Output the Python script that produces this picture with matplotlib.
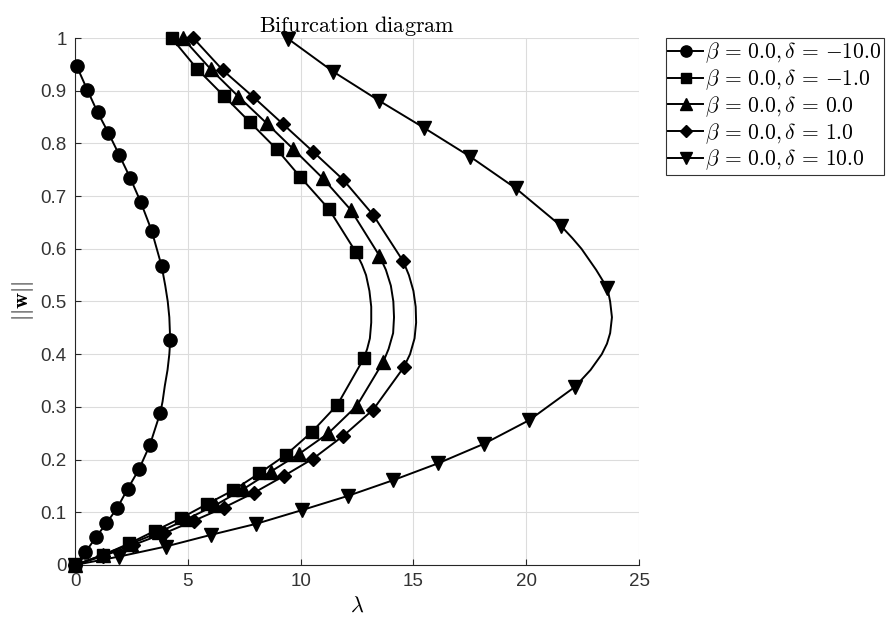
import matplotlib
matplotlib.use("Agg")
import matplotlib.pyplot as plt
from matplotlib.ticker import FuncFormatter

plt.rcParams['mathtext.fontset'] = 'cm'
plt.rcParams['font.family'] = ['Liberation Sans', 'DejaVu Sans']

# branch points (lambda, ||w||) from the top of the upper branch, round the turn, down to the origin
lam_m10 = [0.07, 0.55, 1.00, 1.48, 1.96, 2.44, 2.91, 3.40, 3.84, 4.00, 4.11, 4.18, 4.22,
           4.18, 4.10, 3.98, 3.88, 3.78, 3.32, 2.84, 2.33, 1.88, 1.39, 0.93, 0.46, 0.0]
w_m10 = [0.947, 0.901, 0.859, 0.820, 0.778, 0.735, 0.689, 0.634, 0.567, 0.53, 0.50, 0.47, 0.426,
         0.40, 0.37, 0.34, 0.31, 0.289, 0.228, 0.182, 0.144, 0.109, 0.079, 0.053, 0.024, 0.0]
turn_m10 = [9, 10, 11, 13, 14, 15, 16]

lam_m1 = [4.28, 5.42, 6.60, 7.76, 8.94, 9.97, 11.26, 12.46, 12.72, 12.90, 13.05, 13.13, 13.13,
          13.07, 12.95, 12.80, 11.63, 10.49, 9.35, 8.17, 7.02, 5.87, 4.70, 3.55, 2.41, 1.25, 0.0]
w_m1 = [1.0, 0.941, 0.890, 0.840, 0.789, 0.737, 0.675, 0.593, 0.57, 0.55, 0.52, 0.49, 0.46,
        0.43, 0.41, 0.392, 0.304, 0.252, 0.209, 0.174, 0.142, 0.116, 0.089, 0.065, 0.041, 0.019, 0.0]
turn_m1 = [8, 9, 10, 11, 12, 13, 14]

lam_0 = [4.77, 6.01, 7.24, 8.50, 9.68, 10.98, 12.22, 13.49, 13.78, 14.00, 14.11, 14.14, 14.10,
         13.90, 13.67, 12.49, 11.23, 9.94, 8.67, 7.46, 6.20, 4.95, 3.71, 2.47, 1.23, 0.0]
w_0 = [1.0, 0.941, 0.889, 0.838, 0.789, 0.734, 0.674, 0.587, 0.56, 0.53, 0.50, 0.47, 0.44,
       0.41, 0.386, 0.302, 0.250, 0.211, 0.177, 0.144, 0.113, 0.087, 0.062, 0.040, 0.019, 0.0]
turn_0 = [8, 9, 10, 11, 12, 13]

lam_p1 = [5.24, 6.55, 7.88, 9.21, 10.56, 11.89, 13.22, 14.55, 14.80, 15.00, 15.10, 15.12, 15.05,
          14.85, 14.57, 13.22, 11.89, 10.56, 9.26, 7.93, 6.60, 5.27, 3.95, 2.58, 1.25, 0.0]
w_p1 = [1.0, 0.939, 0.889, 0.837, 0.784, 0.731, 0.664, 0.576, 0.55, 0.52, 0.49, 0.46, 0.43,
        0.40, 0.375, 0.295, 0.245, 0.202, 0.169, 0.137, 0.109, 0.084, 0.060, 0.038, 0.017, 0.0]
turn_p1 = [8, 9, 10, 11, 12, 13]

lam_p10 = [9.46, 11.45, 13.48, 15.49, 17.51, 19.53, 21.55, 22.05, 22.45, 23.10, 23.60, 23.72, 23.80,
           23.72, 23.58, 23.35, 22.85, 22.16, 20.14, 18.13, 16.10, 14.11, 12.09, 10.05, 8.02, 6.01,
           4.02, 1.96, 0.0]
w_p10 = [0.998, 0.936, 0.881, 0.829, 0.775, 0.715, 0.643, 0.62, 0.60, 0.56, 0.525, 0.50, 0.47,
         0.44, 0.42, 0.40, 0.37, 0.338, 0.275, 0.230, 0.193, 0.161, 0.131, 0.104, 0.078, 0.057,
         0.035, 0.016, 0.0]
turn_p10 = [7, 8, 9, 11, 12, 13, 14, 15, 16]

labels = [r'$\beta\, =\, 0.0, \delta\, =\, {-}10.0$',
          r'$\beta\, =\, 0.0, \delta\, =\, {-}1.0$',
          r'$\beta\, =\, 0.0, \delta\, =\, 0.0$',
          r'$\beta\, =\, 0.0, \delta\, =\, 1.0$',
          r'$\beta\, =\, 0.0, \delta\, =\, 10.0$']

series = [(lam_m10, w_m10, turn_m10, 'o', 9.5),
          (lam_m1, w_m1, turn_m1, 's', 8),
          (lam_0, w_0, turn_0, '^', 10),
          (lam_p1, w_p1, turn_p1, 'D', 7),
          (lam_p10, w_p10, turn_p10, 'v', 10)]

fig = plt.figure(figsize=(8.9, 6.18), dpi=100)
ax = fig.add_axes([0.0843, 0.0858, 0.6337, 0.8527])

for (lam, w, turn, mk, ms), lab in zip(series, labels):
    marked = [i for i in range(len(lam)) if i not in turn]
    ax.plot(lam, w, color='black', lw=1.4, marker=mk, ms=ms, markevery=marked,
            label=lab, clip_on=False, zorder=3)

ax.set_xlim(0, 25)
ax.set_ylim(0, 1)
ax.set_xticks([0, 5, 10, 15, 20, 25])
ax.set_yticks([i / 10 for i in range(11)])
ax.yaxis.set_major_formatter(FuncFormatter(lambda v, p: f'{v:g}'))
ax.grid(True, color='#dcdcdc', lw=0.8)
ax.set_axisbelow(True)
for s in ['top', 'right']:
    ax.spines[s].set_visible(False)
for s in ['left', 'bottom']:
    ax.spines[s].set_color('#262626')
    ax.spines[s].set_linewidth(0.8)
ax.tick_params(direction='in', length=4, width=0.8, colors='#262626',
               labelsize=13.5, labelcolor='#333333', pad=6)

ax.set_title(r'$\mathrm{Bifurcation\ diagram}$', fontsize=16, pad=4)
ax.set_xlabel(r'$\lambda$', fontsize=16, labelpad=4)
ax.set_ylabel(r'$||\mathbf{w}||$', fontsize=16, labelpad=3)

leg = ax.legend(loc='upper left', bbox_to_anchor=(0.748, 0.9385),
                bbox_transform=fig.transFigure, fontsize=15.5, frameon=True,
                fancybox=False, framealpha=1, edgecolor='#333333',
                borderpad=0.12, labelspacing=0.1, handlelength=1.6,
                handletextpad=0.12, borderaxespad=0, markerscale=0.85)
leg.get_frame().set_linewidth(0.8)

fig.savefig('out.png', dpi=100)
